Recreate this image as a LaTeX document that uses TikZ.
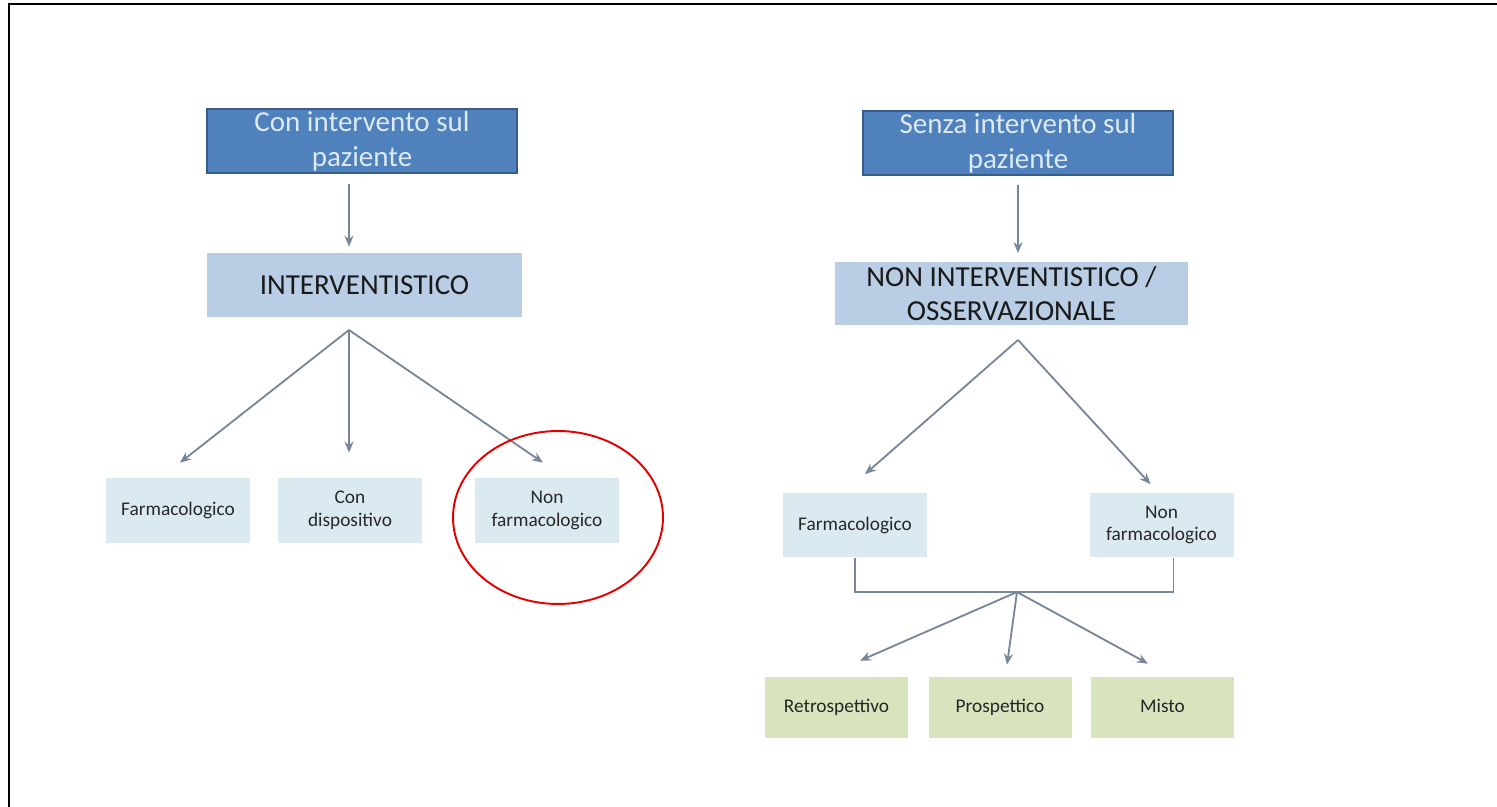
\documentclass[tikz,border=0pt]{standalone}
\usepackage{fontspec}
\setmainfont{Carlito}
\usepackage{xcolor}
\definecolor{HeadBlue} {RGB}{79, 129, 189}
\definecolor{HeadEdge} {RGB}{56, 93,  138}
\definecolor{HeadText} {RGB}{222,233, 246}
\definecolor{KindBlue} {RGB}{185,205, 229}
\definecolor{LeafBlue} {RGB}{219,233, 240}
\definecolor{LeafGreen}{RGB}{215,228, 189}
\definecolor{LinkGray} {RGB}{120,134, 154}
\definecolor{TextGray} {RGB}{40, 40,  40}
\usetikzlibrary{
  arrows.meta,
  calc
}

\begin{document}
\begin{tikzpicture}[
  x=0.02cm, y=-0.02cm,
  box/.style={
    inner sep=0pt, align=center,
    minimum height=1.28cm},
  head/.style={box,
    draw=HeadEdge, line width=0.8pt,
    fill=HeadBlue, text=HeadText,
    font=\fontsize{16.5}{20}\selectfont,
    minimum width=6.2cm},
  kind/.style={box,
    fill=KindBlue, text=black!90,
    font=\fontsize{16.5}{19}\selectfont},
  leaf/.style={box,
    fill=LeafBlue, text=TextGray,
    font=\fontsize{11}{13}\selectfont,
    minimum width=2.88cm,
    minimum height=1.3cm},
  design/.style={leaf,
    fill=LeafGreen, text=black!85,
    text height=1.6ex, text depth=0.45ex,
    minimum width=2.86cm,
    minimum height=1.22cm},
  link/.style={
    draw=LinkGray, line width=1.05pt},
  arrow/.style={link,
    -{Stealth[length=2.2mm, width=1.8mm]}},
  ring/.style={
    draw=red!90!black, line width=1.1pt}
]
\useasboundingbox (0,0) rectangle (1497,807);
\draw[line width=1.2pt] (9,807) -- (9,4) -- (1497,4);

% con intervento
\node[head] (conH) at (362,141)
  {Con intervento sul\\paziente};
\node[kind, minimum width=6.3cm] (intK)
  at (364.5,285) {INTERVENTISTICO};
\coordinate (forkL) at (349,330);
\node[leaf] (farmL) at (178,510.5)
  {Farmacologico};
\node[leaf] (dispL) at (350,510.5)
  {Con\\dispositivo};
\node[leaf] (nonfL) at (547,510.5)
  {Non\\farmacologico};

\draw[arrow, shorten <=0.2cm, shorten >=0.12cm]
  (conH.south -| forkL) -- (intK.north -| forkL);
\draw[arrow] (forkL) -- ($(farmL.north)+(2,-15)$);
\draw[arrow] (forkL) -- ($(dispL.north)+(-1,-25)$);
\draw[arrow] (forkL) -- ($(nonfL.north)+(-4,-15)$);

\draw[ring] (558,517.5)
  ellipse [x radius=2.1cm, y radius=1.73cm];

% senza intervento
\node[head] (senH) at (1018,143)
  {Senza intervento sul\\paziente};
\node[kind, minimum width=7.06cm] (nonK)
  at (1011.5,293.5)
  {NON INTERVENTISTICO /\\OSSERVAZIONALE};
\coordinate (forkR) at (1018,340);
\node[leaf] (farmR) at (855,525)
  {Farmacologico};
\node[leaf] (nonfR) at (1161.5,525)
  {Non\\farmacologico};

\draw[arrow, shorten <=0.18cm, shorten >=0.16cm]
  (senH.south -| forkR) -- (nonK.north -| forkR);
\draw[arrow] (forkR) -- ($(farmR.north)+(10,-18)$);
\draw[arrow] (forkR) -- ($(nonfR.north)+(-11,-8)$);

\coordinate (joinR) at (1017,592);
\draw[link] (farmR.south) |- (joinR)
  -| ($(nonfR.south)+(12,0)$);

\node[design] (retroD) at (836.5,707.5)
  {Retrospettivo};
\node[design] (prosD) at (1000,707.5)
  {Prospettico};
\node[design] (mistoD) at (1162.5,707.5)
  {Misto};

\draw[arrow] (joinR) -- ($(retroD.north)+(23.5,-16)$);
\draw[arrow] (joinR) -- ($(prosD.north)+(7,-12)$);
\draw[arrow] (joinR) -- ($(mistoD.north)+(-14.5,-13)$);

\end{tikzpicture}
\end{document}
